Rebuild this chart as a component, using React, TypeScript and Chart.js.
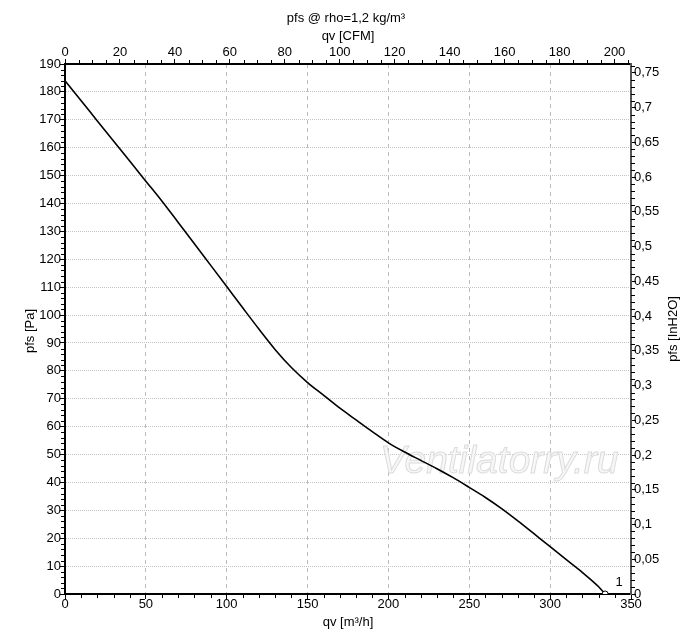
import React, { useEffect, useRef } from 'react';
import { Chart, registerables } from 'chart.js';

Chart.register(...registerables);

// ---- data ----
const FLOW_M3H = [0, 10, 20, 30, 40, 50, 60, 70, 80, 90, 100, 110, 120, 130, 140, 150, 160, 170, 180, 190, 200, 210, 220, 230, 240, 250, 260, 270, 280, 290, 300, 310, 320, 330, 334];
const PRESSURE_PA = [184, 176.8, 169.6, 162.4, 155.2, 148, 140.8, 133.2, 125.6, 117.9, 110.2, 102.5, 94.9, 87.6, 81.2, 75.8, 71.2, 66.6, 62.4, 58.2, 54.2, 50.9, 47.9, 44.9, 41.7, 38.2, 34.6, 30.6, 26.2, 21.6, 17, 12.3, 7.7, 2.6, 0];
const CURVE_LABEL = '1';

// ---- axes ----
const BOTTOM_TICKS_M3H = [0, 50, 100, 150, 200, 250, 300, 350];
const LEFT_TICKS_PA = [0, 10, 20, 30, 40, 50, 60, 70, 80, 90, 100, 110, 120, 130, 140, 150, 160, 170, 180, 190];
const TOP_TICKS_CFM = [0, 20, 40, 60, 80, 100, 120, 140, 160, 180, 200];
const RIGHT_TICKS_INH2O = [0, 0.05, 0.1, 0.15, 0.2, 0.25, 0.3, 0.35, 0.4, 0.45, 0.5, 0.55, 0.6, 0.65, 0.7, 0.75];

const X_MIN = 0;
const X_MAX = 350;
const Y_MIN = 0;
const Y_MAX = 190;
const M3H_PER_CFM = 1.699;
const PA_PER_INH2O = 249.089;

const MINOR_STEP = { x: 10, y: 2, xTop: 5, yRight: 0.01 };

const TITLE_MAIN = 'pfs @ rho=1,2 kg/m³';
const TITLE_TOP = 'qv [CFM]';
const TITLE_BOTTOM = 'qv [m³/h]';
const TITLE_LEFT = 'pfs [Pa]';
const TITLE_RIGHT = 'pfs [InH2O]';
const WATERMARK = 'Ventilatorry.ru';

const FONT_FAMILY = '"Liberation Sans", Arial, Helvetica, sans-serif';

const fmtComma = (v: number) => String(Number(v.toFixed(3))).replace('.', ',');

const decorPlugin = {
  id: 'decor',
  beforeDatasetsDraw(chart: any) {
    const { ctx, chartArea } = chart;
    ctx.save();
    ctx.font = `italic 39px ${FONT_FAMILY}`;
    ctx.textAlign = 'left';
    ctx.textBaseline = 'alphabetic';
    ctx.fillStyle = '#f7f7f7';
    ctx.strokeStyle = '#dcdcdc';
    ctx.lineWidth = 1;
    const wx = chartArea.right - 251;
    const wy = chartArea.bottom - 121;
    ctx.fillText(WATERMARK, wx, wy);
    ctx.strokeText(WATERMARK, wx, wy);
    ctx.restore();
  },
  afterDraw(chart: any) {
    const { ctx, chartArea, scales } = chart;
    ctx.save();
    // minor ticks
    ctx.strokeStyle = '#000';
    ctx.lineWidth = 1;
    const minorLen = 3;
    const drawMinor = (scaleId: string, step: number, majorEvery: number, max: number) => {
      const s = scales[scaleId];
      const n = Math.floor(max / step + 1e-9);
      for (let i = 0; i <= n; i++) {
        if (i % majorEvery === 0) continue;
        const v = i * step;
        const p = Math.round(s.getPixelForValue(v)) + 0.5;
        ctx.beginPath();
        if (scaleId === 'x') {
          ctx.moveTo(p, chartArea.bottom);
          ctx.lineTo(p, chartArea.bottom + minorLen + 1);
        } else if (scaleId === 'xTop') {
          ctx.moveTo(p, chartArea.top);
          ctx.lineTo(p, chartArea.top - minorLen - 1);
        } else if (scaleId === 'y') {
          ctx.moveTo(chartArea.left, p);
          ctx.lineTo(chartArea.left - minorLen - 1, p);
        } else {
          ctx.moveTo(chartArea.right, p);
          ctx.lineTo(chartArea.right + minorLen + 1, p);
        }
        ctx.stroke();
      }
    };
    drawMinor('x', MINOR_STEP.x, 5, X_MAX);
    drawMinor('y', MINOR_STEP.y, 5, Y_MAX);
    drawMinor('xTop', MINOR_STEP.xTop, 4, X_MAX / M3H_PER_CFM);
    drawMinor('yRight', MINOR_STEP.yRight, 5, Y_MAX / PA_PER_INH2O);

    // titles
    ctx.fillStyle = '#000';
    ctx.font = `13px ${FONT_FAMILY}`;
    const cx = (chartArea.left + chartArea.right) / 2;
    const cy = (chartArea.top + chartArea.bottom) / 2;
    ctx.textAlign = 'center';
    ctx.textBaseline = 'alphabetic';
    ctx.fillText(TITLE_MAIN, cx - 2, chartArea.top - 42);
    ctx.fillText(TITLE_TOP, cx, chartArea.top - 24);
    ctx.fillText(TITLE_BOTTOM, cx, chartArea.bottom + 32);

    ctx.textBaseline = 'middle';
    ctx.save();
    ctx.translate(chartArea.left - 35, cy + 2);
    ctx.rotate(-Math.PI / 2);
    ctx.fillText(TITLE_LEFT, 0, 0);
    ctx.restore();

    ctx.save();
    ctx.translate(chartArea.right + 42, cy);
    ctx.rotate(-Math.PI / 2);
    ctx.fillText(TITLE_RIGHT, 0, 0);
    ctx.restore();

    // curve label at last point
    const meta = chart.getDatasetMeta(0);
    const last = meta.data[meta.data.length - 1];
    if (last) {
      ctx.textAlign = 'center';
      ctx.textBaseline = 'middle';
      ctx.fillText(CURVE_LABEL, last.x + 14, last.y - 12);
    }
    ctx.restore();
  },
};

export default function App() {
  const ref = useRef<HTMLCanvasElement>(null);

  useEffect(() => {
    const canvas = ref.current;
    if (!canvas) return;
    Chart.defaults.font.family = FONT_FAMILY;
    Chart.defaults.font.size = 13;
    Chart.defaults.color = '#000';

    const lastIdx = FLOW_M3H.length - 1;
    const points = FLOW_M3H.map((q, i) => ({ x: q, y: PRESSURE_PA[i] }));

    const tickFont = { family: FONT_FAMILY, size: 13 };

    const chart = new Chart(canvas, {
      type: 'line',
      data: {
        datasets: [
          {
            data: points,
            borderColor: '#000',
            borderWidth: 1.6,
            cubicInterpolationMode: 'monotone',
            fill: false,
            pointRadius: (c: any) => (c.dataIndex === lastIdx ? 3 : 0),
            pointBackgroundColor: '#fff',
            pointBorderColor: '#000',
            pointBorderWidth: 1,
            xAxisID: 'x',
            yAxisID: 'y',
          },
        ],
      },
      options: {
        responsive: false,
        animation: false,
        events: [],
        layout: { padding: 0 },
        plugins: {
          legend: { display: false },
          tooltip: { enabled: false },
          title: { display: false },
        },
        scales: {
          x: {
            type: 'linear',
            position: 'bottom',
            min: X_MIN,
            max: X_MAX,
            afterBuildTicks: (s: any) => {
              s.ticks = BOTTOM_TICKS_M3H.map((v) => ({ value: v }));
            },
            afterFit: (s: any) => {
              s.height = 49;
            },
            ticks: {
              font: tickFont,
              color: '#000',
              padding: -2,
              maxRotation: 0,
              autoSkip: false,
              callback: (v: any) => String(v),
            },
            grid: {
              drawOnChartArea: true,
              drawTicks: true,
              tickLength: 5,
              tickColor: '#000',
              tickWidth: 1,
              tickBorderDash: [],
              lineWidth: 1,
              color: (c: any) =>
                c.tick && (c.tick.value === X_MIN || c.tick.value === X_MAX) ? 'rgba(0,0,0,0)' : '#bcbcbc',
            },
            border: { display: true, color: '#000', width: 2, dash: [4, 4] },
          },
          xTop: {
            type: 'linear',
            position: 'top',
            min: X_MIN / M3H_PER_CFM,
            max: X_MAX / M3H_PER_CFM,
            afterBuildTicks: (s: any) => {
              s.ticks = TOP_TICKS_CFM.map((v) => ({ value: v }));
            },
            afterFit: (s: any) => {
              s.height = 64;
            },
            ticks: {
              font: tickFont,
              color: '#000',
              padding: -1,
              maxRotation: 0,
              autoSkip: false,
              callback: (v: any) => String(v),
            },
            grid: {
              drawOnChartArea: false,
              drawTicks: true,
              tickLength: 5,
              tickColor: '#000',
              tickWidth: 1,
            },
            border: { display: true, color: '#000', width: 2 },
          },
          y: {
            type: 'linear',
            position: 'left',
            min: Y_MIN,
            max: Y_MAX,
            afterBuildTicks: (s: any) => {
              s.ticks = LEFT_TICKS_PA.map((v) => ({ value: v }));
            },
            afterFit: (s: any) => {
              s.width = 65;
            },
            ticks: {
              font: tickFont,
              color: '#000',
              padding: -1,
              autoSkip: false,
              callback: (v: any) => String(v),
            },
            grid: {
              drawOnChartArea: true,
              drawTicks: true,
              tickLength: 5,
              tickColor: '#000',
              tickWidth: 1,
              tickBorderDash: [],
              lineWidth: 1,
              color: (c: any) =>
                c.tick && (c.tick.value === Y_MIN || c.tick.value === Y_MAX) ? 'rgba(0,0,0,0)' : '#c4c4c4',
            },
            border: { display: true, color: '#000', width: 2, dash: [1, 1] },
          },
          yRight: {
            type: 'linear',
            position: 'right',
            min: Y_MIN / PA_PER_INH2O,
            max: Y_MAX / PA_PER_INH2O,
            afterBuildTicks: (s: any) => {
              s.ticks = RIGHT_TICKS_INH2O.map((v) => ({ value: v }));
            },
            afterFit: (s: any) => {
              s.width = 69;
            },
            ticks: {
              font: tickFont,
              color: '#000',
              padding: -2,
              autoSkip: false,
              callback: (v: any) => fmtComma(Number(v)),
            },
            grid: {
              drawOnChartArea: false,
              drawTicks: true,
              tickLength: 5,
              tickColor: '#000',
              tickWidth: 1,
            },
            border: { display: true, color: '#555', width: 2 },
          },
        },
      } as any,
      plugins: [decorPlugin],
    });

    return () => chart.destroy();
  }, []);

  return (
    <div style={{ position: 'fixed', left: 0, top: 0, width: 700, height: 643, background: '#fff' }}>
      <canvas ref={ref} width={700} height={643} style={{ display: 'block', width: 700, height: 643 }} />
    </div>
  );
}
